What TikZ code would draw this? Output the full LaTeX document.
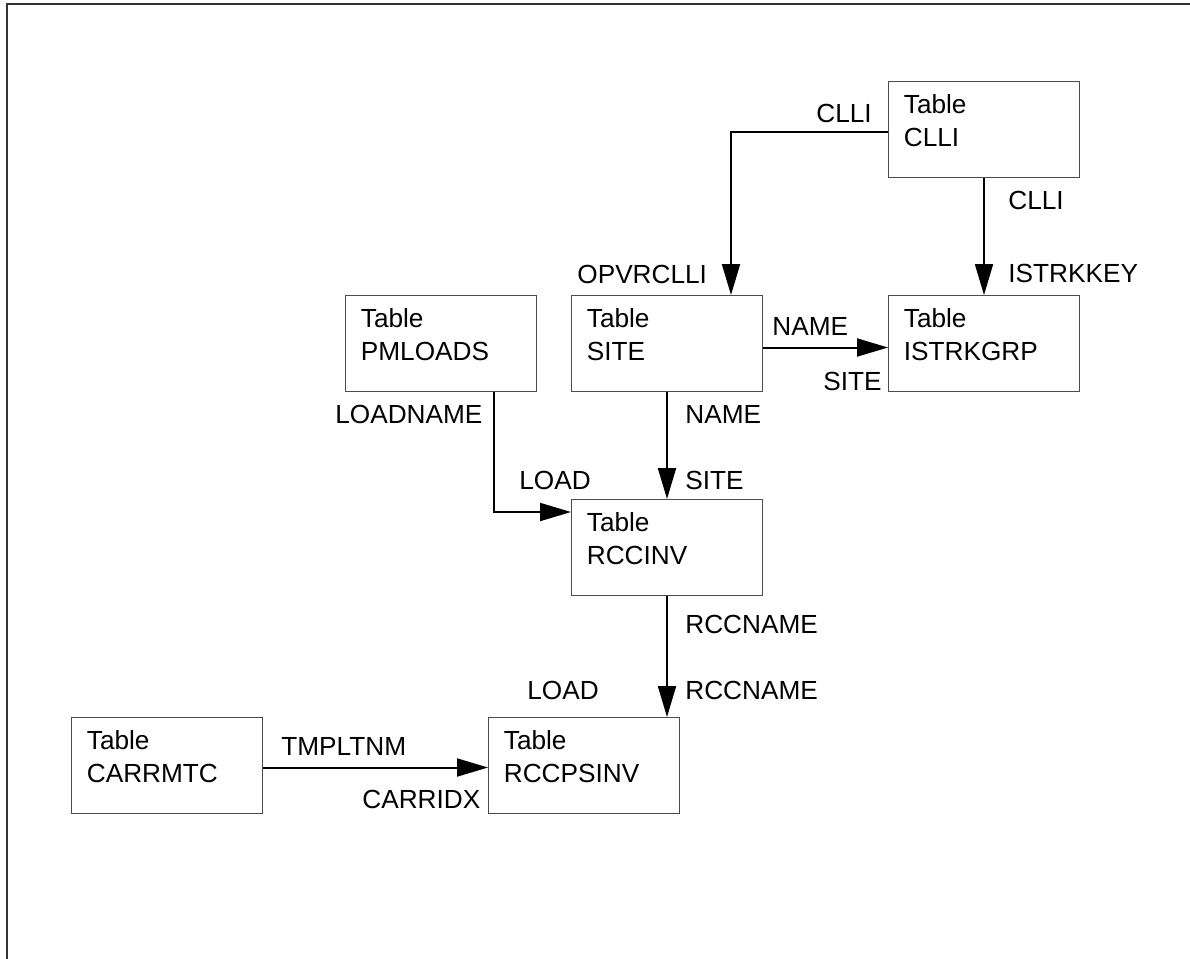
\documentclass[tikz,border=0pt]{standalone}
\usepackage{fontspec}
\setmainfont{Liberation Sans}
\usetikzlibrary{calc}
\usetikzlibrary{arrows.meta}

\tikzset{
  tbl/.style={draw=black!70, line width=0.5pt, anchor=north west,
    minimum width=95.5pt, minimum height=48pt, inner xsep=7.7pt, inner ysep=0pt,
    text width=80.1pt, align=left, text height=16pt, text depth=32pt,
    font=\fontsize{13.1}{16.5}\selectfont},
  lbl/.style={anchor=base west, inner sep=0pt, font=\fontsize{13.1}{16.5}\selectfont},
  link/.style={line width=1pt, -{Triangle[length=15.5pt,width=9pt]}}
}

\begin{document}
\begin{tikzpicture}[x=0.5pt,y=-0.5pt]
\useasboundingbox (0,0) rectangle (1190,959);
\draw[black!80, line width=1pt] (1190,4) -- (7,4) -- (7,959);

\node[tbl] (clli) at (888,81) {Table\\CLLI};
\node[tbl] (pmloads) at (345,295) {Table\\PMLOADS};
\node[tbl] (site) at (571,295) {Table\\SITE};
\node[tbl] (istrkgrp) at (888,295) {Table\\ISTRKGRP};
\node[tbl] (rccinv) at (571,499) {Table\\RCCINV};
\node[tbl] (carrmtc) at (71,717) {Table\\CARRMTC};
\node[tbl] (rccpsinv) at (488,717) {Table\\RCCPSINV};

\coordinate (c1) at ($(site.north west)+(160,0)$);
\coordinate (p1) at ($(pmloads.south west)+(149,0)$);
\coordinate (p2) at ($(rccinv.north west)+(0,13)$);

\node[lbl] (l1) at (816,122) {CLLI};
\node[lbl] (l2) at (577,283) {OPVRCLLI};
\node[lbl] (l3) at (1008,209) {CLLI};
\node[lbl] (l4) at (1008,282) {ISTRKKEY};
\node[lbl] (l5) at (772,335) {NAME};
\node[lbl] (l6) at (823,390) {SITE};
\node[lbl] (l7) at (335,423) {LOADNAME};
\node[lbl] (l8) at (519,489) {LOAD};
\node[lbl] (l9) at (685,423) {NAME};
\node[lbl] (l10) at (685,489) {SITE};
\node[lbl] (l11) at (685,633) {RCCNAME};
\node[lbl] (l12) at (685,699) {RCCNAME};
\node[lbl] (l13) at (527,699) {LOAD};
\node[lbl] (l14) at (281,755) {TMPLTNM};
\node[lbl] (l15) at (362,808) {CARRIDX};

\draw[link] ([yshift=-1pt]clli.west) -| (c1);
\draw[link] (clli.south) -- (istrkgrp.north);
\draw[link] ([yshift=-2pt]site.east) -- ([yshift=-2pt]istrkgrp.west);
\draw[link] (p1) |- (p2);
\draw[link] (site.south) -- (rccinv.north);
\draw[link] (rccinv.south) -- (rccinv.south |- rccpsinv.north);
\draw[link] ([yshift=-1pt]carrmtc.east) -- ([yshift=-1pt]rccpsinv.west);

\end{tikzpicture}
\end{document}
